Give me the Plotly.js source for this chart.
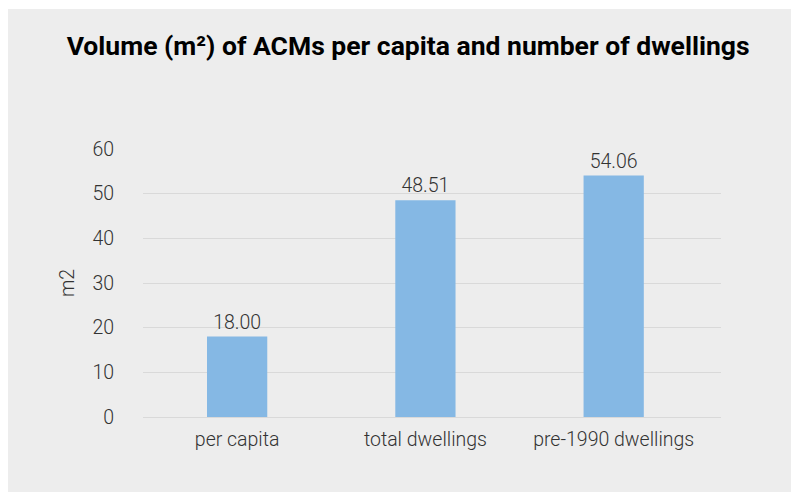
<!DOCTYPE html>
<html><head><meta charset="utf-8">
<script src="https://cdn.plot.ly/plotly-3.0.1.min.js"></script>
<style>
html,body{margin:0;padding:0;background:#ffffff;}
#chart{position:absolute;left:8px;top:9px;width:783px;height:483px;}
</style></head>
<body><div id="chart"></div>
<script>
const categories = ["per capita", "total dwellings", "pre-1990 dwellings"];
const values = [18.00, 48.51, 54.06];
const valueLabels = ["18.00", "48.51", "54.06"];
const yTicks = [0, 10, 20, 30, 40, 50, 60];

const font = {family: "Roboto", size: 19.5, color: "#333333", weight: 300};

Plotly.newPlot("chart", [{
  type: "bar",
  x: categories,
  y: values,
  text: valueLabels,
  textposition: "outside",
  cliponaxis: false,
  textfont: {family: "Roboto", size: 19.5, color: "#333333", weight: 300},
  marker: {color: "#85b8e4"},
  hoverinfo: "x+y"
}], {
  width: 783, height: 483,
  paper_bgcolor: "#ededed",
  plot_bgcolor: "#ededed",
  margin: {l: 135, r: 70, t: 140, b: 75},
  font: font,
  showlegend: false,
  bargap: 0.68,
  title: {
    text: "Volume (m²) of ACMs per capita and number of dwellings",
    font: {family: "Roboto", size: 26.5, color: "#000000", weight: "bold"},
    x: 0.511, xref: "container", xanchor: "center",
    y: 0.925, yref: "container", yanchor: "middle"
  },
  xaxis: {
    type: "category",
    range: [-0.5, 2.57],
    showgrid: false,
    zeroline: false,
    showline: false,
    ticks: "outside", ticklen: 5, tickcolor: "rgba(0,0,0,0)",
    tickfont: font
  },
  yaxis: {
    range: [0, 60],
    tickvals: yTicks,
    showgrid: true,
    gridcolor: "#d9d9d9",
    gridwidth: 1,
    zeroline: true,
    zerolinecolor: "#d9d9d9",
    showline: false,
    ticks: "outside", ticklen: 24, tickcolor: "rgba(0,0,0,0)",
    tickfont: font,
    title: {text: "m2", font: font, standoff: 12}
  }
}, {displayModeBar: false, staticPlot: false});
</script></body></html>
